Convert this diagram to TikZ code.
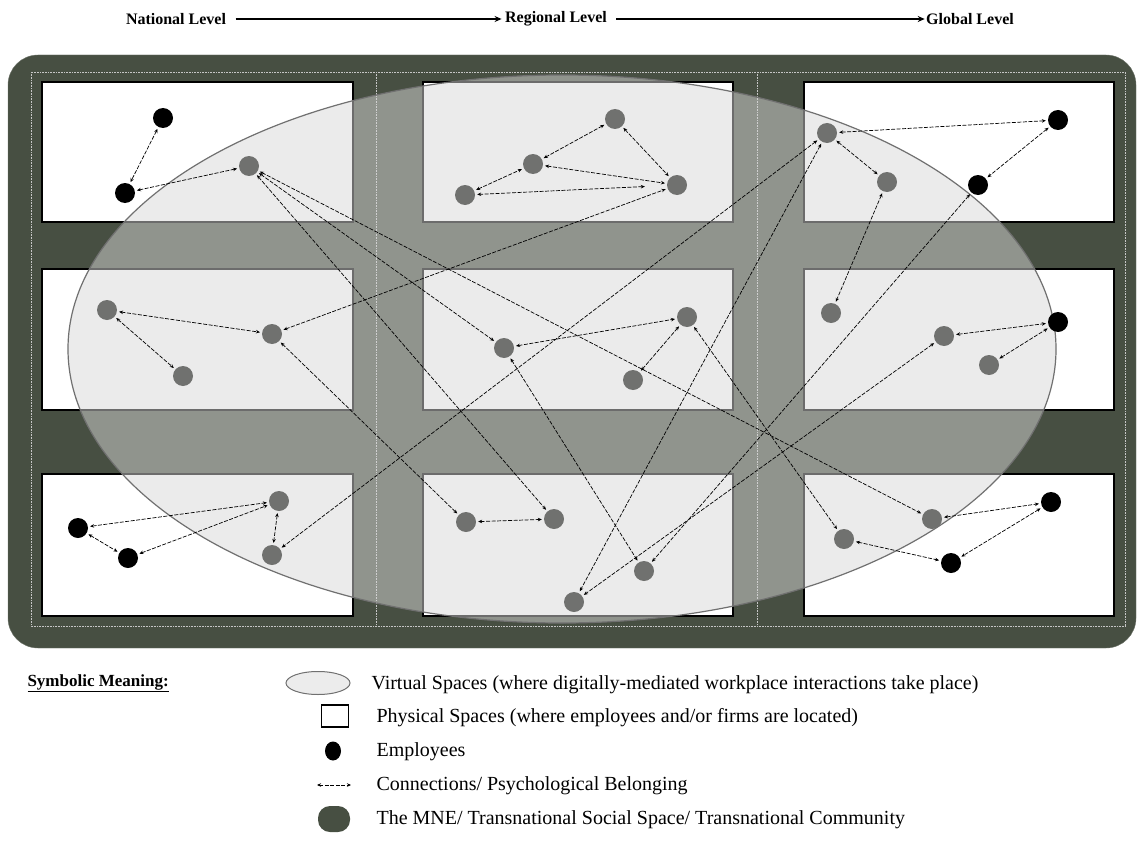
\documentclass[tikz,border=0pt]{standalone}
\usepackage{fontspec}
\setmainfont{Liberation Serif}
\usepackage{xcolor}
\definecolor{mnedark}{RGB}{71,79,66}
\definecolor{virtgray}{RGB}{217,217,217}
\definecolor{peergray}{RGB}{112,113,111}
\definecolor{rimgray}{RGB}{112,112,112}
\usetikzlibrary{arrows.meta, positioning, shapes.geometric}

\tikzset{
  emp/.style={circle, fill=black, minimum size=20pt, inner sep=0pt},
  peer/.style={circle, fill=peergray, minimum size=20pt, inner sep=0pt},
  cell/.style={fill=white, draw=black, line width=1.2pt},
  link/.style={{Stealth[length=4pt,width=3.5pt]}-{Stealth[length=4pt,width=3.5pt]},
    dash pattern=on 4pt off 1.5pt, line width=0.7pt, shorten >=2pt, shorten <=2pt},
  lvlarrow/.style={-{Stealth[length=7pt,width=6pt]}, line width=1.5pt},
  keytext/.style={anchor=west, font=\fontsize{20}{24}\selectfont}
}

\begin{document}
\begin{tikzpicture}[x=1pt, y=-1pt]
  \useasboundingbox (0,0) rectangle (1137,848);

  % --- Levels ---
  \node[font=\fontsize{16}{19}\selectfont\bfseries] (natl) at (176,19) {National Level};
  \node[font=\fontsize{16}{19}\selectfont\bfseries] (regl) at (556,19) {Regional Level};
  \node[font=\fontsize{16}{19}\selectfont\bfseries] (glol) at (970,19) {Global Level};
  \draw[lvlarrow, shorten <=6pt] (natl.east) -- (regl.west);
  \draw[lvlarrow, shorten <=6pt, shorten >=-2pt] (regl.east) -- (glol.west);

  % --- MNE / transnational space ---
  \draw[fill=mnedark, draw=mnedark!80!white, rounded corners=30pt] (8,55) rectangle (1136,648);
  \draw[gray!45, densely dotted, line width=0.6pt] (31,72) rectangle (1125,626);
  \draw[gray!45, densely dotted, line width=0.6pt] (376,72) -- (376,626);
  \draw[gray!45, densely dotted, line width=0.6pt] (757,72) -- (757,626);

  % physical spaces
  \draw[cell] (42,82) rectangle (353,222);
  \draw[cell] (423,82) rectangle (733,222);
  \draw[cell] (804,82) rectangle (1114,222);
  \draw[cell] (42,269) rectangle (353,410);
  \draw[cell] (423,269) rectangle (733,410);
  \draw[cell] (804,269) rectangle (1114,410);
  \draw[cell] (42,474) rectangle (353,616);
  \draw[cell] (423,474) rectangle (733,616);
  \draw[cell] (804,474) rectangle (1114,616);

  % virtual space
  \draw[fill=virtgray, fill opacity=0.5, draw=rimgray, line width=1.2pt]
    (562,349) ellipse [x radius=494pt, y radius=274pt];

  % --- Employees, national ---
  \node[emp]  (nt1) at (163,118) {};
  \node[emp]  (nt2) at (125,193) {};
  \node[peer] (nt3) at (249,166) {};
  \node[peer] (nm1) at (107,310) {};
  \node[peer] (nm2) at (272,334) {};
  \node[peer] (nm3) at (183,376) {};
  \node[emp]  (nb1) at (78,528) {};
  \node[emp]  (nb2) at (128,558) {};
  \node[peer] (nb3) at (279,501) {};
  \node[peer] (nb4) at (272,555) {};

  % --- Employees, regional ---
  \node[peer] (rt1) at (615,119) {};
  \node[peer] (rt2) at (533,164) {};
  \node[peer] (rt3) at (465,195) {};
  \node[peer] (rt4) at (677,185) {};
  \node[peer] (rm1) at (504,348) {};
  \node[peer] (rm2) at (687,317) {};
  \node[peer] (rm3) at (633,380) {};
  \node[peer] (rb1) at (466,522) {};
  \node[peer] (rb2) at (554,519) {};
  \node[peer] (rb3) at (644,571) {};
  \node[peer] (rb4) at (574,602) {};

  % --- Employees, global ---
  \node[peer] (gt1) at (827,133) {};
  \node[peer] (gt2) at (887,182) {};
  \node[emp]  (gt3) at (1058,120) {};
  \node[emp]  (gt4) at (978,185) {};
  \node[peer] (gm1) at (831,313) {};
  \node[peer] (gm2) at (944,336) {};
  \node[emp]  (gm3) at (1058,322) {};
  \node[peer] (gm4) at (989,365) {};
  \node[peer] (gb1) at (844,539) {};
  \node[peer] (gb2) at (932,519) {};
  \node[emp]  (gb3) at (1051,502) {};
  \node[emp]  (gb4) at (951,563) {};

  % --- Connections ---
  \draw[link] (nt1) -- (nt2);
  \draw[link] (nt2) -- (nt3);
  \draw[link] (nt3) -- (rm1);
  \draw[link] (nt3) -- (rb2);
  \draw[link] (nt3) -- (gb2);
  \draw[link] (nm1) -- (nm2);
  \draw[link] (nm1) -- (nm3);
  \draw[link] (nm2) -- (rt4);
  \draw[link] (nm2) -- (rb1);
  \draw[link] (nb1) -- (nb3);
  \draw[link] (nb1) -- (nb2);
  \draw[link] (nb2) -- (nb3);
  \draw[link] (nb3) -- (nb4);
  \draw[link] (rt1) -- (rt2);
  \draw[link] (rt1) -- (rt4);
  \draw[link] (rt2) -- (rt4);
  \draw[link] (rt3) -- (rt2);
  \draw[link, shorten <=22pt] (rt4) -- (rt3);
  \draw[link] (rm1) -- (rm2);
  \draw[link] (rm3) -- (rm2);
  \draw[link] (rm1) -- (rb3);
  \draw[link] (rm2) -- (gb1);
  \draw[link] (rb1) -- (rb2);
  \draw[link] (gt1) -- (gt3);
  \draw[link] (gt3) -- (gt4);
  \draw[link] (gt1) -- (gt2);
  \draw[link] (gt1) -- (rb4);
  \draw[link] (gt1) -- (nb4);
  \draw[link] (gt2) -- (gm1);
  \draw[link] (gt4) -- (rb3);
  \draw[link] (gm2) -- (gm3);
  \draw[link] (gm4) -- (gm3);
  \draw[link] (gm2) -- (rb4);
  \draw[link] (gb2) -- (gb3);
  \draw[link] (gb3) -- (gb4);
  \draw[link] (gb1) -- (gb4);

  % --- Symbolic meaning ---
  \node[anchor=west, font=\fontsize{17}{20}\selectfont\bfseries] (symb) at (24,683) {\underline{Symbolic Meaning:}};
  \node[ellipse, draw=rimgray, fill=virtgray!50!white, line width=1pt,
        minimum width=64pt, minimum height=23pt, inner sep=0pt] (keyvirt) at (318,683) {};
  \node[draw=black, fill=white, line width=1.3pt, minimum width=27pt, minimum height=22pt,
        inner sep=0pt] (keyphys) at (335,716) {};
  \node[ellipse, fill=black, minimum width=16pt, minimum height=19pt, inner sep=0pt] (keyemp) at (333,751) {};
  \coordinate (keyl) at (317,785);
  \coordinate (keyr) at (351,785);
  \draw[link, shorten <=0pt, shorten >=0pt, line width=0.6pt] (keyl) -- (keyr);
  \node[fill=mnedark, rounded corners=12pt, minimum width=32pt, minimum height=26pt,
        inner sep=0pt] (keymne) at (334,819) {};
  \node[keytext] (txvirt) at (368,685) {Virtual Spaces (where digitally-mediated workplace interactions take place)};
  \node[keytext] (txphys) at (373,718) {Physical Spaces (where employees and/or firms are located)};
  \node[keytext] (txemp)  at (373,752) {Employees};
  \node[keytext] (txlink) at (373,786) {Connections/ Psychological Belonging};
  \node[keytext] (txmne)  at (373,820) {The MNE/ Transnational Social Space/ Transnational Community};
\end{tikzpicture}
\end{document}
